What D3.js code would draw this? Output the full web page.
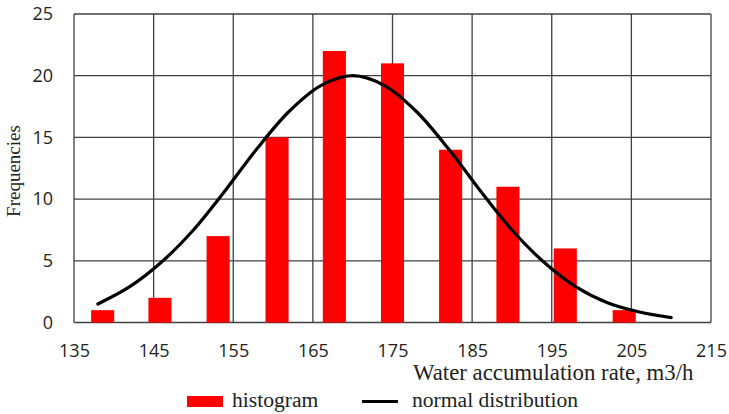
<!DOCTYPE html>
<html>
<head>
<meta charset="utf-8">
<script src="https://cdn.jsdelivr.net/npm/d3@7"></script>
<style>
    body { margin: 0; background: #fff; }
    svg { display: block; }
</style>
</head>
<body>
<div id="root"></div>
<script>
// Histogram: bin centres and counts
const binCentres = [138.6, 145.8, 153.1, 160.5, 167.7, 175.0, 182.3, 189.5, 196.7, 204.1];
const binCounts = [1, 2, 7, 15, 22, 21, 14, 11, 6, 1];

// Normal distribution curve
const curveX = [138, 142, 146, 150, 154, 158, 162, 166, 170, 174, 178, 182, 186, 190, 194, 198, 202, 206, 210];
const curveY = [1.5, 2.9, 4.9, 7.5, 10.7, 14.1, 17.1, 19.2, 20, 19.2, 17.1, 14.1, 10.7, 7.5, 4.9, 2.9, 1.6, 0.85, 0.4];

const xTicks = [135, 145, 155, 165, 175, 185, 195, 205, 215];
const yTicks = [0, 5, 10, 15, 20, 25];

const Width = 729;
const Height = 414;
const Plot = { Left: 74, Right: 711, Top: 14, Bottom: 322.5 };
const BinWidth = 2.9;
const GridColour = '#404040';
const SansFont = '"Open Sans", sans-serif';
const SerifFont = '"Liberation Serif", "Times New Roman", serif';

const svg = d3.select('#root')
    .append('svg')
    .attr('width', Width)
    .attr('height', Height);

const x = d3.scaleLinear().domain([135, 215]).range([Plot.Left, Plot.Right]);
const y = d3.scaleLinear().domain([0, 25]).range([Plot.Bottom, Plot.Top]);

// Grid lines
const grid = svg.append('g')
    .attr('stroke', GridColour)
    .attr('stroke-width', 1.3);

grid.selectAll('.vgrid')
    .data(xTicks)
    .join('line')
    .attr('class', 'vgrid')
    .attr('x1', d => x(d))
    .attr('x2', d => x(d))
    .attr('y1', y(25))
    .attr('y2', y(0));

grid.selectAll('.hgrid')
    .data(yTicks)
    .join('line')
    .attr('class', 'hgrid')
    .attr('x1', x(135))
    .attr('x2', x(215))
    .attr('y1', d => y(d))
    .attr('y2', d => y(d));

// Bars
const bins = binCentres.map((c, i) => ({ c, v: binCounts[i] }));
svg.append('g')
    .attr('fill', '#ff0000')
    .selectAll('rect')
    .data(bins)
    .join('rect')
    .attr('x', d => x(d.c - BinWidth / 2))
    .attr('width', d => x(d.c + BinWidth / 2) - x(d.c - BinWidth / 2))
    .attr('y', d => y(d.v))
    .attr('height', d => y(0) - y(d.v));

// Normal curve
const curvePoints = curveX.map((v, i) => [v, curveY[i]]);
svg.append('path')
    .datum(curvePoints)
    .attr('fill', 'none')
    .attr('stroke', '#000')
    .attr('stroke-width', 3.2)
    .attr('stroke-linecap', 'round')
    .attr('d', d3.line()
        .x(d => x(d[0]))
        .y(d => y(d[1]))
        .curve(d3.curveCatmullRom));

// Axes (tick labels only, the grid draws the lines)
const xAxis = svg.append('g')
    .attr('transform', `translate(0, ${Plot.Bottom})`)
    .call(d3.axisBottom(x).tickValues(xTicks).tickSize(0).tickPadding(0));
xAxis.select('.domain').remove();
xAxis.selectAll('text')
    .attr('dy', null)
    .attr('y', 34)
    .attr('fill', '#222')
    .style('font-family', SansFont)
    .style('font-size', '18px');

const yAxis = svg.append('g')
    .attr('transform', `translate(${Plot.Left}, 0)`)
    .call(d3.axisLeft(y).tickValues(yTicks).tickSize(0).tickPadding(21));
yAxis.select('.domain').remove();
yAxis.selectAll('text')
    .attr('fill', '#222')
    .style('font-family', SansFont)
    .style('font-size', '18px');

// Axis titles
svg.append('text')
    .attr('x', 413)
    .attr('y', 380)
    .attr('fill', '#222')
    .style('font-family', SerifFont)
    .style('font-size', '22.8px')
    .text('Water accumulation rate, m3/h');

svg.append('text')
    .attr('transform', 'translate(20, 171) rotate(-90)')
    .attr('text-anchor', 'middle')
    .attr('fill', '#222')
    .style('font-family', SerifFont)
    .style('font-size', '19px')
    .text('Frequencies');

// Legend
const legend = svg.append('g');

legend.append('rect')
    .attr('x', 187)
    .attr('y', 396)
    .attr('width', 36)
    .attr('height', 11)
    .attr('fill', '#ff0000');
legend.append('text')
    .attr('x', 232)
    .attr('y', 407)
    .attr('fill', '#222')
    .style('font-family', SerifFont)
    .style('font-size', '21.6px')
    .text('histogram');

legend.append('line')
    .attr('x1', 362)
    .attr('x2', 398)
    .attr('y1', 401.5)
    .attr('y2', 401.5)
    .attr('stroke', '#000')
    .attr('stroke-width', 3.2);
legend.append('text')
    .attr('x', 412)
    .attr('y', 407)
    .attr('fill', '#222')
    .style('font-family', SerifFont)
    .style('font-size', '21.6px')
    .text('normal distribution');
</script>
</body>
</html>
